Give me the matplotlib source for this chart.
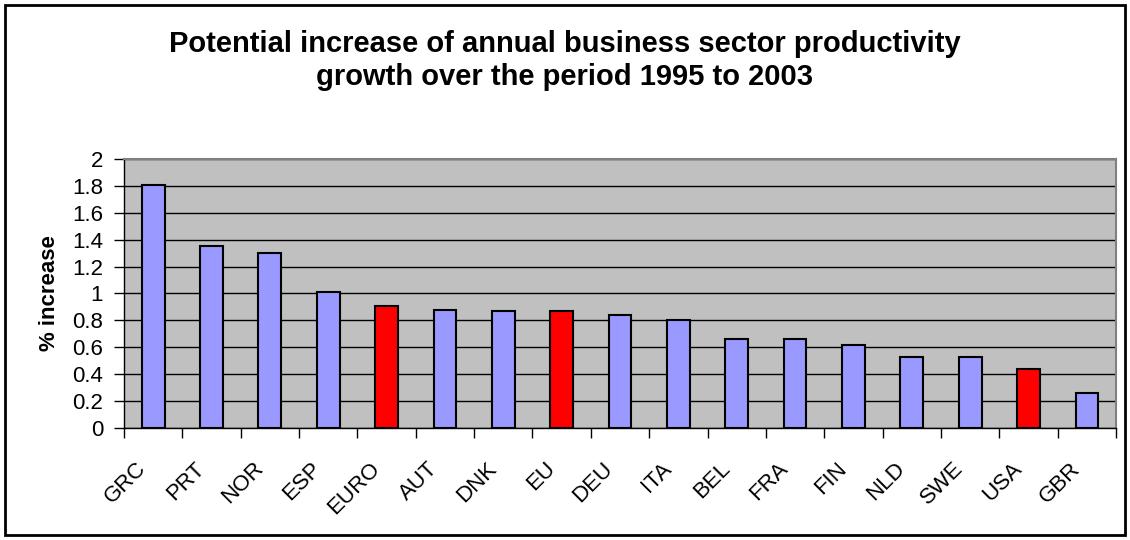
import matplotlib.pyplot as plt
from matplotlib.patches import Rectangle
from matplotlib.transforms import ScaledTranslation

plt.rcParams['font.family'] = ['Liberation Sans', 'DejaVu Sans']

countries = ["GRC", "PRT", "NOR", "ESP", "EURO", "AUT", "DNK", "EU", "DEU",
             "ITA", "BEL", "FRA", "FIN", "NLD", "SWE", "USA", "GBR"]
increase = [1.81, 1.35, 1.30, 1.01, 0.91, 0.88, 0.87, 0.87, 0.84,
            0.80, 0.66, 0.66, 0.62, 0.53, 0.53, 0.44, 0.26]
aggregates = ["EURO", "EU", "USA"]
y_ticks = [0, 0.2, 0.4, 0.6, 0.8, 1, 1.2, 1.4, 1.6, 1.8, 2]
y_tick_labels = ["0", "0.2", "0.4", "0.6", "0.8", "1", "1.2", "1.4", "1.6", "1.8", "2"]

colors = ["#FF0000" if c in aggregates else "#9999FF" for c in countries]

fig = plt.figure(figsize=(11.3, 5.4), dpi=100)
ax = fig.add_axes([0.1097, 0.2074, 0.878, 0.4982])
ax.set_facecolor("#C0C0C0")

x = list(range(len(countries)))
ax.bar(x, increase, width=0.39, color=colors, edgecolor="black", linewidth=1.5, zorder=3)

ax.set_xlim(-0.5, len(countries) - 0.5)
ax.set_ylim(0, 2)
ax.set_yticks(y_ticks)
ax.set_yticklabels(y_tick_labels, fontsize=16)
ax.yaxis.grid(True, color="black", linewidth=1)
ax.set_axisbelow(True)

# ticks between categories, labels centred under bars
ax.set_xticks([i - 0.5 for i in range(len(countries) + 1)])
ax.set_xticklabels([])
ax.set_xticks(x, minor=True)
ax.set_xticklabels(countries, minor=True, rotation=45, ha="right", va="center",
                   rotation_mode="anchor", fontsize=16)
ax.tick_params(axis="x", which="minor", length=0, pad=27)
ax.tick_params(axis="x", which="major", length=7, width=1)
ax.tick_params(axis="y", length=7, width=1, pad=8)
shift = ScaledTranslation(-10 / 100, 0, fig.dpi_scale_trans)
for lbl in ax.get_xticklabels(minor=True):
    lbl.set_transform(lbl.get_transform() + shift)

ax.spines["top"].set_color("#808080")
ax.spines["right"].set_color("#808080")
ax.spines["top"].set_linewidth(1.5)
ax.spines["right"].set_linewidth(1.5)
ax.spines["left"].set_linewidth(1)
ax.spines["bottom"].set_linewidth(1)

ax.set_ylabel("% increase", fontsize=16, fontweight="bold", labelpad=9)

fig.text(0.5, 0.945, "Potential increase of annual business sector productivity\n"
         "growth over the period 1995 to 2003",
         ha="center", va="top", fontsize=21, fontweight="bold", linespacing=1.25)

# outer chart border
fig.patches.append(Rectangle((5 / 1130, 5 / 540), 1120 / 1130, 530 / 540,
                             transform=fig.transFigure, fill=False,
                             edgecolor="black", linewidth=2))

fig.savefig("out.png", dpi=100)
